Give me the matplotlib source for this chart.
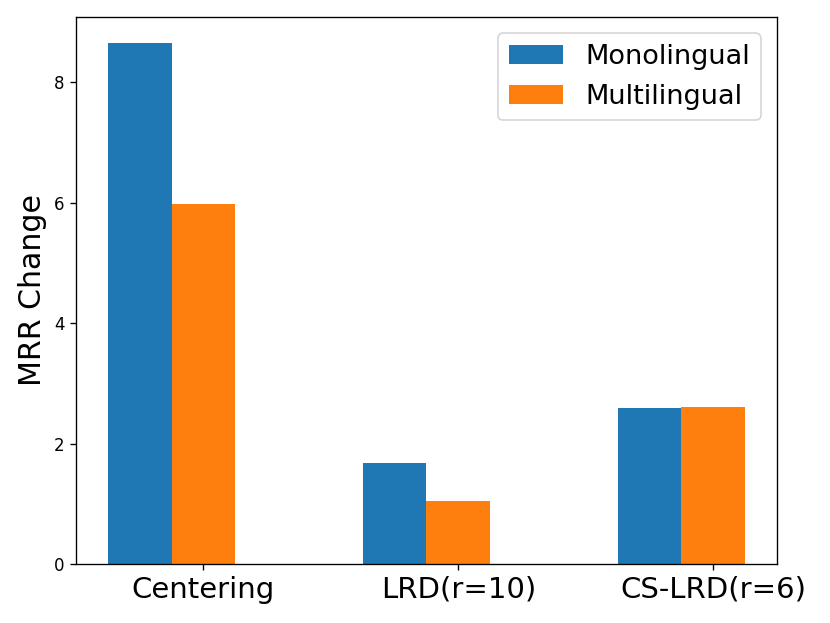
import numpy as np
import matplotlib
matplotlib.use('Agg')
import matplotlib.pyplot as plt

methods = ['Centering', 'LRD(r=10)', 'CS-LRD(r=6)']
mono = [8.65, 1.68, 2.59]
multi = [5.97, 1.04, 2.60]

x = np.arange(len(methods))
width = 0.25

fig = plt.figure(figsize=(830/120., 623/120.), dpi=120)
ax = fig.add_subplot(111)
plt.subplots_adjust(left=0.0916, right=0.936, top=0.973, bottom=0.0947)
ax.bar(x - width, mono, width, label='Monolingual', color='#1f77b4')
ax.bar(x, multi, width, label='Multilingual', color='#ff7f0e')
ax.set_xticks(x)
ax.set_xticklabels(methods, fontsize=17.5)
ax.set_ylabel('MRR Change', fontsize=18)
ax.legend(fontsize=16.3, loc='upper right', borderaxespad=0.6)
plt.savefig('out.png', dpi=120)
